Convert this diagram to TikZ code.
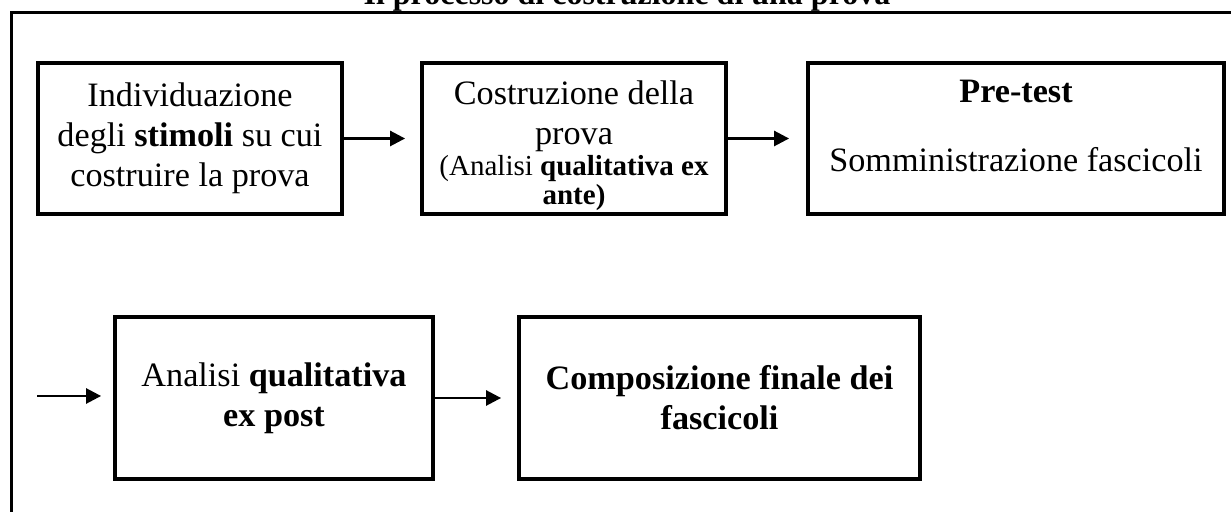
\documentclass[tikz,border=0pt]{standalone}
\usepackage{fontspec}
\setmainfont{Liberation Serif}
\usetikzlibrary{arrows.meta}

\tikzset{
  fase/.style={draw, line width=1.9pt, align=center, inner sep=0pt,
    minimum height=75.5pt, font=\fontsize{17.1}{20}\selectfont},
  freccia/.style={-{Triangle[length=7.5pt,width=7.5pt]}, line width=1.3pt},
}

\begin{document}
\begin{tikzpicture}[x=0.5pt,y=-0.5pt]

    % page (pixel units)
    \useasboundingbox (0,0) rectangle (1231,512);

    % title and frame
    \node[anchor=base, inner sep=0pt, font=\fontsize{16}{19}\selectfont\bfseries] (titolo) at (627,5) {Il processo di costruzione di una prova};
    \draw[line width=1.5pt] (11.7,512) -- (11.7,13) -- (1231,13);

    % first row
    \node[fase, minimum width=152pt] (individuazione) at (190,138.5)
      {Individuazione\\ degli \textbf{stimoli} su cui\\ costruire la prova};
    \node[fase, minimum width=152pt] (costruzione) at (574,138.5)
      {\rule{0pt}{18.7pt}Costruzione della\\ prova\\[-4.5pt]
       {\fontsize{14.5}{15}\selectfont (Analisi \textbf{qualitativa ex}}\\[-5.5pt]
       {\fontsize{14.5}{15}\selectfont\bfseries ante)}};
    \node[fase, minimum width=208pt] (pretest) at (1016,138.5)
      {\textbf{Pre-test}\\[14.5pt] Somministrazione fascicoli\rule[-12.5pt]{0pt}{12.5pt}};

    % second row
    \node[fase, minimum width=159pt, minimum height=81pt] (analisi) at (274,398)
      {Analisi \textbf{qualitativa}\\ \textbf{ex post}};
    \node[fase, minimum width=200.5pt, minimum height=81pt] (composizione) at (719.5,398)
      {\textbf{Composizione finale dei}\\ \textbf{fascicoli}};

    % arrows
    \coordinate (ingresso) at (37,396);
    \draw[freccia, shorten >=7.5pt] (individuazione.east) -- (costruzione.west);
    \draw[freccia, shorten >=8.5pt] (costruzione.east) -- (pretest.west);
    \draw[freccia, shorten >=6pt] (ingresso) -- (analisi.west |- ingresso);
    \draw[freccia, shorten >=8pt] (analisi.east) -- (composizione.west);

\end{tikzpicture}
\end{document}
